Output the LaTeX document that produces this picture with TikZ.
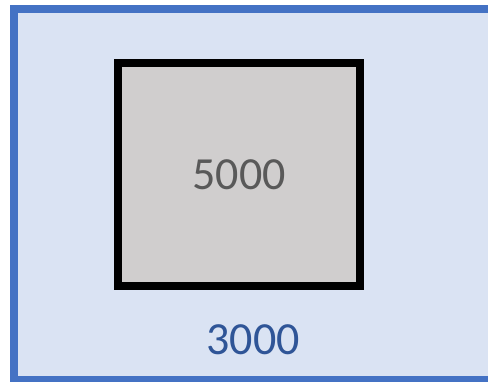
\documentclass[tikz,border=0pt]{standalone}
\usepackage{fontspec}
\setmainfont{Carlito}
\definecolor{outerfill}{HTML}{DAE3F3}
\definecolor{outerline}{HTML}{4472C4}
\definecolor{innerfill}{HTML}{D0CECE}
\definecolor{graytext}{HTML}{595959}
\definecolor{bluetext}{HTML}{2F5597}
\tikzset{
  outerbox/.style={draw=outerline, fill=outerfill, line width=8pt},
  innerbox/.style={draw=black, fill=innerfill, line width=8pt},
  numlabel/.style={inner sep=0pt, font=\fontsize{46}{50}\selectfont}
}
\begin{document}
\begin{tikzpicture}[x=1pt,y=-1pt]
\useasboundingbox (0,0) rectangle (488,381);
\clip (0,0) rectangle (488,381);
\fill[white] (0,0) rectangle (488,381);
\draw[outerbox] (13.85,8.7) rectangle (496,379.7);
\draw[innerbox] (118,63.4) rectangle (360,286.3);
\node[numlabel, text=graytext] (a) at (239,174.7) {5000};
\node[numlabel, text=bluetext] (b) at (253,339.5) {3000};
\end{tikzpicture}
\end{document}
